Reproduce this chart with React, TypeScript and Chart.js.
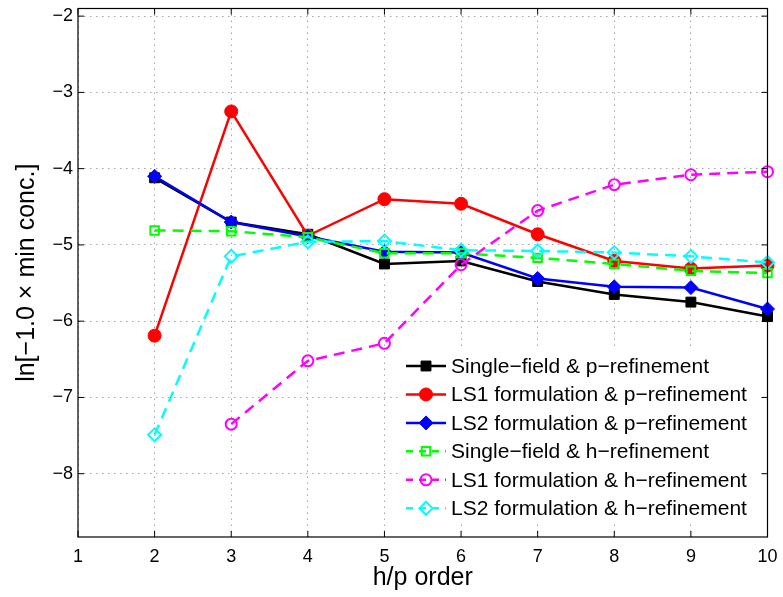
import React, { useEffect, useRef } from 'react';
import { Chart, registerables } from 'chart.js';

Chart.register(...registerables);

const orders = [2, 3, 4, 5, 6, 7, 8, 9, 10];
const singleFieldP = [-4.12, -4.70, -4.86, -5.25, -5.21, -5.48, -5.65, -5.75, -5.94];
const ls1P = [-6.19, -3.25, -4.88, -4.40, -4.46, -4.86, -5.21, -5.31, -5.27];
const ls2P = [-4.10, -4.70, -4.89, -5.09, -5.10, -5.44, -5.55, -5.56, -5.84];
const singleFieldH = [-4.81, -4.82, -4.90, -5.11, -5.11, -5.17, -5.25, -5.34, -5.37];
const ls1H: (number | null)[] = [null, -7.35, -6.52, -6.29, -5.26, -4.55, -4.21, -4.08, -4.04];
const ls2H = [-7.49, -5.15, -4.96, -4.95, -5.07, -5.08, -5.10, -5.15, -5.23];

const xTicks = [1, 2, 3, 4, 5, 6, 7, 8, 9, 10];
const yTicks = [-8, -7, -6, -5, -4, -3, -2];

const seriesLabels = [
  'Single\u2212field & p\u2212refinement',
  'LS1 formulation & p\u2212refinement',
  'LS2 formulation & p\u2212refinement',
  'Single\u2212field & h\u2212refinement',
  'LS1 formulation & h\u2212refinement',
  'LS2 formulation & h\u2212refinement',
];
const seriesValues = [singleFieldP, ls1P, ls2P, singleFieldH, ls1H, ls2H];

const xTitle = 'h/p order';
const yTitle = 'ln[\u22121.0 \u00d7 min conc.]';

type Style = { color: string; dash: number[]; point: string; radius: number; fill: boolean; width: number };
const seriesStyles: Style[] = [
  { color: '#000000', dash: [], point: 'rect', radius: 7, fill: true, width: 2.5 },
  { color: '#ff0000', dash: [], point: 'circle', radius: 6.5, fill: true, width: 2.5 },
  { color: '#0000ff', dash: [], point: 'rectRot', radius: 7, fill: true, width: 2.5 },
  { color: '#00ff00', dash: [11, 7], point: 'rect', radius: 6, fill: false, width: 2.5 },
  { color: '#ff00ff', dash: [11, 7], point: 'circle', radius: 5.5, fill: false, width: 2.5 },
  { color: '#00ffff', dash: [11, 7], point: 'rectRot', radius: 6.5, fill: false, width: 2.5 },
];

const FONT = '"Liberation Sans", Arial, Helvetica, sans-serif';

function drawMarker(ctx: CanvasRenderingContext2D, s: Style, x: number, y: number) {
  ctx.save();
  ctx.setLineDash([]);
  ctx.strokeStyle = s.color;
  ctx.fillStyle = s.color;
  ctx.lineWidth = s.fill ? 1 : 2;
  ctx.beginPath();
  const r = s.radius;
  if (s.point === 'circle') {
    ctx.arc(x, y, r, 0, Math.PI * 2);
  } else if (s.point === 'rect') {
    const h = r * Math.SQRT1_2;
    ctx.rect(x - h, y - h, 2 * h, 2 * h);
  } else {
    ctx.moveTo(x, y - r);
    ctx.lineTo(x + r, y);
    ctx.lineTo(x, y + r);
    ctx.lineTo(x - r, y);
    ctx.closePath();
  }
  if (s.fill) ctx.fill();
  ctx.stroke();
  ctx.restore();
}

const framePlugin = {
  id: 'frame',
  afterDraw(chart: any) {
    const ctx: CanvasRenderingContext2D = chart.ctx;
    const { left, right, top, bottom } = chart.chartArea;
    const xs = chart.scales.x;
    const ys = chart.scales.y;
    ctx.save();
    ctx.strokeStyle = '#000';
    ctx.lineWidth = 1.2;
    ctx.setLineDash([]);
    ctx.strokeRect(left, top, right - left, bottom - top);
    const tl = 6;
    ctx.beginPath();
    xTicks.forEach((v) => {
      const px = xs.getPixelForValue(v);
      ctx.moveTo(px, bottom);
      ctx.lineTo(px, bottom - tl);
      ctx.moveTo(px, top);
      ctx.lineTo(px, top + tl);
    });
    yTicks.forEach((v) => {
      const py = ys.getPixelForValue(v);
      ctx.moveTo(left, py);
      ctx.lineTo(left + tl, py);
      ctx.moveTo(right, py);
      ctx.lineTo(right - tl, py);
    });
    ctx.lineWidth = 1;
    ctx.stroke();

    ctx.fillStyle = '#000';
    ctx.font = `25px ${FONT}`;
    ctx.textAlign = 'center';
    ctx.textBaseline = 'middle';
    ctx.fillText(xTitle, (left + right) / 2, 578);
    ctx.save();
    ctx.translate(27, (top + bottom) / 2);
    ctx.rotate(-Math.PI / 2);
    ctx.fillText(yTitle, 0, 0);
    ctx.restore();

    const lx = 398, ly = 348, lw = 360, lh = 173;
    ctx.fillStyle = '#ffffff';
    ctx.fillRect(lx, ly, lw, lh);
    ctx.font = `21px ${FONT}`;
    ctx.textAlign = 'left';
    ctx.textBaseline = 'middle';
    seriesLabels.forEach((lab, i) => {
      const s = seriesStyles[i];
      const cy = 366 + i * 28.45;
      ctx.save();
      ctx.strokeStyle = s.color;
      ctx.lineWidth = s.width;
      ctx.setLineDash(s.dash.length ? [7, 6] : []);
      ctx.beginPath();
      ctx.moveTo(406, cy);
      ctx.lineTo(446, cy);
      ctx.stroke();
      ctx.restore();
      drawMarker(ctx, s, 426, cy);
      ctx.fillStyle = '#000';
      ctx.fillText(lab, 451, cy + 1);
    });
    ctx.restore();
  },
};

export default function App() {
  const ref = useRef<HTMLCanvasElement | null>(null);

  useEffect(() => {
    document.body.style.margin = '0';
    const canvas = ref.current;
    if (!canvas) return;
    const n = seriesLabels.length;
    const datasets = seriesLabels.map((label, i) => {
      const s = seriesStyles[i];
      return {
        label,
        data: orders.map((o, k) => ({ x: o, y: seriesValues[i][k] })),
        borderColor: s.color,
        backgroundColor: s.fill ? s.color : 'rgba(0,0,0,0)',
        borderWidth: s.width,
        borderDash: s.dash,
        pointStyle: s.point,
        pointRadius: s.radius,
        pointHoverRadius: s.radius,
        pointBorderWidth: s.fill ? 1 : 2,
        pointBorderColor: s.color,
        pointBackgroundColor: s.fill ? s.color : 'rgba(0,0,0,0)',
        tension: 0,
        clip: false as any,
        spanGaps: false,
        order: n - i,
      };
    });

    const chart = new Chart(canvas, {
      type: 'line',
      data: { datasets: datasets as any },
      options: {
        responsive: false,
        animation: false,
        events: [],
        layout: { padding: { left: 0, right: 15.5, top: 5, bottom: 0 } },
        plugins: {
          legend: { display: false },
          tooltip: { enabled: false },
        },
        scales: {
          x: {
            type: 'linear',
            min: 1,
            max: 10,
            afterBuildTicks: (scale: any) => {
              scale.ticks = xTicks.map((v) => ({ value: v }));
            },
            afterFit: (scale: any) => {
              scale.height = 60;
              scale.paddingLeft = 0;
              scale.paddingRight = 0;
            },
            ticks: {
              color: '#000',
              font: { family: FONT, size: 18 },
              padding: 9,
              maxRotation: 0,
              autoSkip: false,
              callback: (v: any) => String(v),
            },
            grid: { color: '#a6a6a6', lineWidth: 1, drawTicks: false },
            border: { display: false, dash: [1.5, 4.5] },
          },
          y: {
            type: 'linear',
            min: -8.83,
            max: -1.9,
            afterBuildTicks: (scale: any) => {
              scale.ticks = yTicks.map((v) => ({ value: v }));
            },
            afterFit: (scale: any) => {
              scale.width = 78;
              scale.paddingTop = 0;
              scale.paddingBottom = 0;
            },
            ticks: {
              color: '#000',
              font: { family: FONT, size: 18 },
              padding: 5,
              autoSkip: false,
              callback: (v: any) => String(v).replace('-', '\u2212'),
            },
            grid: { color: '#a6a6a6', lineWidth: 1, drawTicks: false },
            border: { display: false, dash: [1.5, 4.5] },
          },
        },
      },
      plugins: [framePlugin],
    });
    return () => chart.destroy();
  }, []);

  return (
    <div style={{ width: 783, height: 597, background: '#fff' }}>
      <canvas ref={ref} width={783} height={597} style={{ display: 'block' }} />
    </div>
  );
}
